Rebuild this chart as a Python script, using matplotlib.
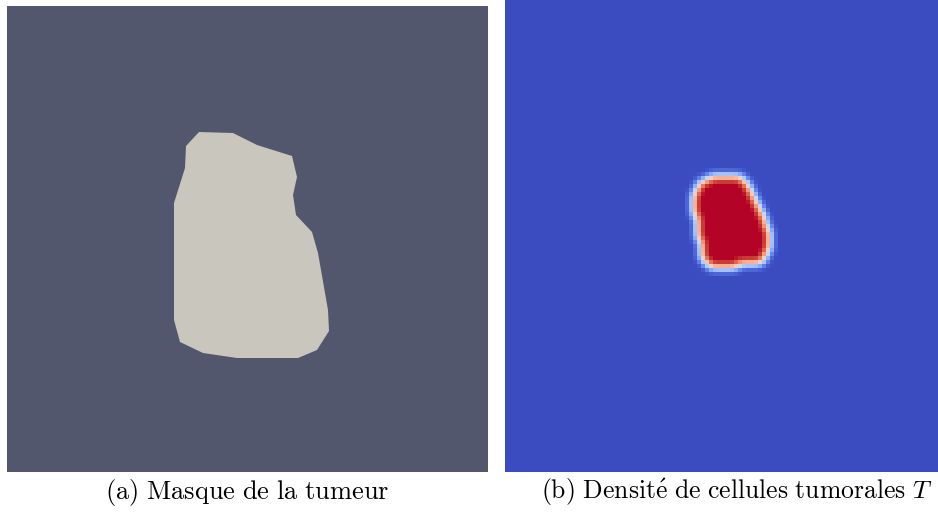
"""
Tumour mask and tumour cell density, side by side.
"""
import numpy as np
import matplotlib
matplotlib.use('Agg')
import matplotlib.pyplot as plt
from matplotlib.patches import Polygon
from matplotlib.path import Path

plt.rcParams['mathtext.fontset'] = 'cm'

# Tumour mask outline (picture pixels, left panel)
mask_x = [199, 233, 257, 292, 297, 293, 296, 312, 318, 328, 329, 317, 298,
          237, 203, 180, 174, 174, 185, 186]
mask_y = [132, 133, 145, 156, 177, 195, 215, 232, 253, 310, 331, 350, 358,
          358, 353, 342, 320, 203, 168, 146]

# Tumour outline for the density field (picture pixels, right panel)
dens_x = [702, 713, 737, 746, 755, 765, 770, 766, 757, 726, 709, 701, 698, 693, 695]
dens_y = [180, 176, 176, 182, 199, 220, 238, 256, 264, 267, 267, 258, 232, 208, 194]

captions = [r'$\mathrm{(a)\ Masque\ de\ la\ tumeur}$',
            r'$\mathrm{(b)\ Densit\acute{e}\ de\ cellules\ tumorales}\ T$']

BG_LEFT = '#52576e'
MASK_COLOR = '#c8c6bd'

W, H = 938, 512
fig = plt.figure(figsize=(W / 100, H / 100), dpi=100)


def add_axes_px(x0, y0, x1, y1):
    """Add axes given a pixel box (top-left origin)."""
    ax = fig.add_axes([x0 / W, 1 - y1 / H, (x1 - x0) / W, (y1 - y0) / H])
    ax.set_xlim(x0, x1)
    ax.set_ylim(y1, y0)
    ax.axis('off')
    return ax


# (a) mask
ax1 = add_axes_px(7, 6, 488, 472)
ax1.add_patch(plt.Rectangle((7, 6), 481, 466, color=BG_LEFT, lw=0))
ax1.add_patch(Polygon(np.column_stack([mask_x, mask_y]), closed=True,
                      facecolor=MASK_COLOR, edgecolor='none'))

# (b) density on a coarse grid
x0, x1, y0, y1 = 505, 938, 0, 472
cell = 4.0
nx = int((x1 - x0) / cell)
ny = int((y1 - y0) / cell)
cx = x0 + (np.arange(nx) + 0.5) * cell
cy = y0 + (np.arange(ny) + 0.5) * cell
gx, gy = np.meshgrid(cx, cy)
path = Path(np.column_stack([dens_x, dens_y]))
field = path.contains_points(np.column_stack([gx.ravel(), gy.ravel()]))
field = field.reshape(ny, nx).astype(float)

# light smoothing of the front
k = np.array([1, 4, 6, 4, 1], dtype=float)
k /= k.sum()
field = np.apply_along_axis(lambda r: np.convolve(r, k, mode='same'), 1, field)
field = np.apply_along_axis(lambda c: np.convolve(c, k, mode='same'), 0, field)

ax2 = add_axes_px(x0, y0, x1, y1)
ax2.imshow(field, cmap='coolwarm', vmin=0, vmax=1, extent=(x0, x1, y1, y0),
           interpolation='nearest', aspect='auto')

# captions
fig.text(247 / W, 1 - 492 / H, captions[0], ha='center', va='center', fontsize=19)
fig.text(737 / W, 1 - 492 / H, captions[1], ha='center', va='center', fontsize=18.5)

fig.savefig('out.png', dpi=100, facecolor='white')
